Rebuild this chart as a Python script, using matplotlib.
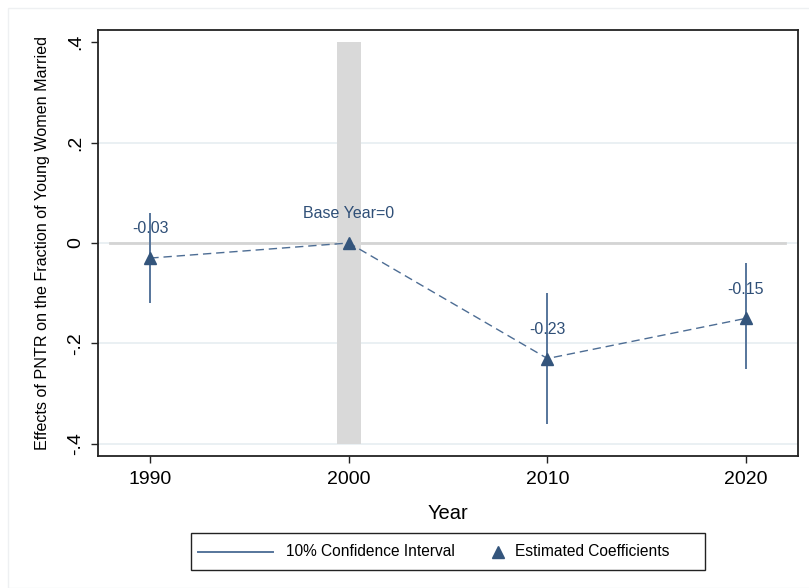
import matplotlib.pyplot as plt
from matplotlib.lines import Line2D
from matplotlib.patches import Rectangle

# event-study estimates, base year 2000
years = [1990, 2000, 2010, 2020]
coefs = [-0.03, 0.0, -0.23, -0.15]
ci_low = [-0.12, 0.0, -0.36, -0.25]
ci_high = [0.06, 0.0, -0.10, -0.04]
point_labels = ["-0.03", "Base Year=0", "-0.23", "-0.15"]
ci_years = [1990, 2010, 2020]

yticks = [-0.4, -0.2, 0, 0.2, 0.4]
ytick_labels = ["-.4", "-.2", "0", ".2", ".4"]
legend_labels = ["10% Confidence Interval", "Estimated Coefficients"]

plt.rcParams['font.family'] = ['Liberation Sans', 'DejaVu Sans']

navy = "#34557c"
ci_col = "#56759b"

W, H = 809, 588
fig = plt.figure(figsize=(W / 100, H / 100), dpi=100)
ax = fig.add_axes([0.1208, 0.2245, 0.8656, 0.7245])

ax.set_xlim(1987.35, 2022.62)
ax.set_ylim(-0.424, 0.424)

# light grid (not at the top tick) + reference line at zero
for yv in yticks[:-1]:
    ax.axhline(yv, color="#e6edf1", lw=1.2, zorder=0)
ax.axhline(0, xmin=0.018, xmax=0.982, color="#d4d4d4", lw=2, zorder=1)

# shaded base year
ax.bar(2000, yticks[-1] - yticks[0], bottom=yticks[0], width=1.2,
       color="#d9d9d9", zorder=1)

# confidence intervals
for x, lo, hi in zip(years, ci_low, ci_high):
    if x in ci_years:
        ax.vlines(x, lo, hi, color=ci_col, lw=1.4, zorder=3)

ax.plot(years, coefs, color="#4d6d94", lw=1, linestyle=(0, (6, 3.5)), zorder=3)
ax.plot(years, coefs, linestyle="none", marker="^", markersize=9,
        color=navy, zorder=4)

for x, y, lab in zip(years, coefs, point_labels):
    ax.annotate(lab, (x, y), xytext=(0, 21), textcoords="offset points",
                ha="center", va="center", fontsize=11.5, color="#2f4f77")

ax.set_xticks(years)
ax.set_yticks(yticks)
ax.set_yticklabels(ytick_labels, rotation=90, va="center")
ax.tick_params(axis="both", labelsize=14, length=5, width=1, color="#222222")
ax.tick_params(axis="x", pad=6)
ax.tick_params(axis="y", pad=5)
for s in ax.spines.values():
    s.set_color("#222222")
    s.set_linewidth(1.3)

ax.set_xlabel("Year", fontsize=14.5, labelpad=11)
ax.set_ylabel("Effects of PNTR on the Fraction of Young Women Married",
              fontsize=11.6, labelpad=12)

# legend box drawn by hand (pixel positions -> figure fraction)
def fx(px):
    return px / W

def fy(py):
    return 1 - py / H

fig.add_artist(Rectangle((fx(191), fy(570)), fx(705) - fx(191), fy(533) - fy(570),
                         transform=fig.transFigure, fill=False,
                         edgecolor="#222222", lw=1))
ly = fy(551.5)
fig.add_artist(Line2D([fx(198), fx(273)], [ly, ly], transform=fig.transFigure,
                      color=ci_col, lw=1.4))
fig.add_artist(Line2D([fx(498)], [ly], transform=fig.transFigure,
                      linestyle="none", marker="^", markersize=9, color=navy))
fig.text(fx(286), ly, legend_labels[0], fontsize=11.2, va="center", ha="left")
fig.text(fx(515), ly, legend_labels[1], fontsize=11.2, va="center", ha="left")

# faint outer graph-region border
fig.add_artist(Rectangle((fx(8), 0), 1, fy(8), transform=fig.transFigure,
                         fill=False, edgecolor="#eef0f2", lw=1))

fig.savefig("out.png", dpi=100)
